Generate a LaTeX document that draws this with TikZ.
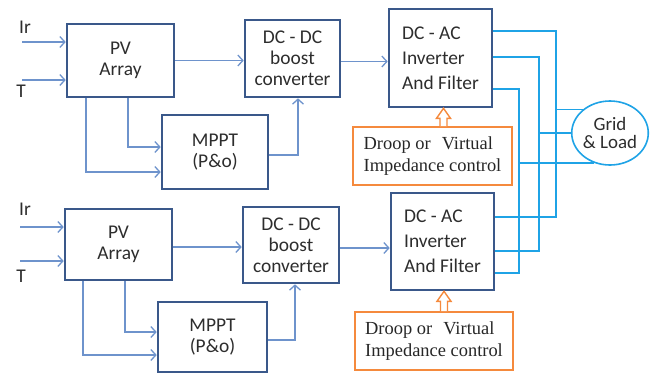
\documentclass[tikz,border=0pt]{standalone}
\usepackage{fontspec}
\usepackage{tikz}
\usetikzlibrary{arrows.meta,calc,shapes.geometric}
\newfontfamily\boxsans{Carlito}
\newfontfamily\ctlserif{Liberation Serif}
\definecolor{boxline}{RGB}{58,88,138}
\definecolor{boxtext}{RGB}{45,45,45}
\definecolor{sigline}{RGB}{110,147,204}
\definecolor{busline}{RGB}{31,163,230}
\definecolor{ctlline}{RGB}{245,138,61}
\tikzset{
  blk/.style  ={draw=boxline, line width=2.6bp, fill=white, inner sep=0pt, align=center,
                text=boxtext, font=\boxsans\fontsize{19.5}{21}\selectfont},
  ctl/.style  ={draw=ctlline, line width=1.6bp, inner sep=0pt, align=left,
                text=black!85, font=\ctlserif\fontsize{18.5}{22}\selectfont},
  lbl/.style  ={inner sep=0pt, text=boxtext, font=\boxsans\fontsize{19.5}{21}\selectfont},
  sig/.style  ={draw=sigline, line width=1.3bp, -{Straight Barb[length=5bp,width=11bp]}},
  bus/.style  ={draw=busline, line width=1.6bp},
  hol/.style  ={draw=ctlline, line width=1.4bp, fill=white, line join=miter},
}

\begin{document}
\begin{tikzpicture}[x=1bp,y=-1bp]
  \useasboundingbox (0,0) rectangle (651,374);
  % upper source
  \node[blk, minimum width=107bp, minimum height=73bp] (pvA) at (120.5,60.5) {PV\\Array};
  \node[blk, minimum width=95bp, minimum height=77bp] (dcA) at (292.5,58.5) {DC - DC\\boost\\converter};
  \node[blk, minimum width=106bp, minimum height=74bp] (mpA) at (215,152) {MPPT\\(P\&o)};
  \node[blk, align=left, minimum width=103bp, minimum height=98bp,
        font=\boxsans\fontsize{19.5}{25}\selectfont] (acA) at (440.5,58) {DC - AC\\Inverter\\And Filter};
  \node[ctl, minimum width=159bp, minimum height=58bp] (drA) at (432.5,156) {Droop or\hspace{0.35em} Virtual\\Impedance control};
  \node[lbl] (irA) at (25,27) {Ir};
  \node[lbl] (tA) at (21,91) {T};
  \coordinate (inA1) at (22,42);
  \coordinate (inA2) at (22,80);
  \draw[sig] (inA1) -- (inA1 -| pvA.west);
  \draw[sig] (inA2) -- (inA2 -| pvA.west);
  \draw[sig] (pvA.east) -- (pvA.east -| dcA.west);
  \draw[sig] ($(dcA.east)+(0,3)$) -- ($(dcA.east -| acA.west)+(0,3)$);
  \draw[sig] ($(pvA.south)+(-34.5,0)$) |- ($(mpA.west)+(0,20)$);
  \draw[sig] ($(pvA.south)+(7.5,0)$) |- ($(mpA.west)+(0,-5)$);
  \draw[sig] ($(mpA.east)+(0,3)$) -| ($(dcA.south)+(5.5,0)$);
  \coordinate (hA) at ($(drA.north)+(11,0)$);
  \draw[hol] let \p1=(hA), \p2=(hA |- acA.south) in
    (\x1-3.5bp,\y1) -- (\x1-3.5bp,\y2-10bp) -- (\x1-7bp,\y2-10bp) -- (\x2,\y2)
    -- (\x1+7bp,\y2-10bp) -- (\x1+3.5bp,\y2-10bp) -- (\x1+3.5bp,\y1);

  % lower source
  \node[blk, minimum width=107bp, minimum height=71bp] (pvB) at (118.5,244.5) {PV\\Array};
  \node[blk, minimum width=96bp, minimum height=76bp] (dcB) at (291,245) {DC - DC\\boost\\converter};
  \node[blk, minimum width=109bp, minimum height=70bp] (mpB) at (212.5,337) {MPPT\\(P\&o)};
  \node[blk, align=left, minimum width=103bp, minimum height=97bp,
        font=\boxsans\fontsize{19.5}{25}\selectfont] (acB) at (442.5,241.5) {DC - AC\\Inverter\\And Filter};
  \node[ctl, minimum width=158bp, minimum height=58bp] (drB) at (434,341) {Droop or\hspace{0.35em} Virtual\\Impedance control};
  \node[lbl] (irB) at (25,209.5) {Ir};
  \node[lbl] (tB) at (21,276) {T};
  \coordinate (inB1) at (20,227);
  \coordinate (inB2) at (20,261);
  \draw[sig] (inB1) -- (inB1 -| pvB.west);
  \draw[sig] (inB2) -- (inB2 -| pvB.west);
  \draw[sig] ($(pvB.east)+(0,2.5)$) -- ($(pvB.east -| dcB.west)+(0,2.5)$);
  \draw[sig] ($(dcB.east)+(0,3)$) -- ($(dcB.east -| acB.west)+(0,3)$);
  \draw[sig] ($(pvB.south)+(-35.5,0)$) |- ($(mpB.west)+(0,18)$);
  \draw[sig] ($(pvB.south)+(6.5,0)$) |- ($(mpB.west)+(0,-5)$);
  \draw[sig] ($(mpB.east)+(0,3)$) -| ($(dcB.south)+(4,0)$);
  \coordinate (hB) at ($(drB.north)+(10,0)$);
  \draw[hol] let \p1=(hB), \p2=(hB |- acB.south) in
    (\x1-3.5bp,\y1) -- (\x1-3.5bp,\y2-10bp) -- (\x1-7bp,\y2-10bp) -- (\x2,\y2)
    -- (\x1+7bp,\y2-10bp) -- (\x1+3.5bp,\y2-10bp) -- (\x1+3.5bp,\y1);

  % ac bus to the grid
  \node[ellipse, draw=busline, line width=1.6bp, inner sep=0pt, minimum width=75bp, minimum height=64bp,
        align=center, text=boxtext, font=\boxsans\fontsize{19}{17.5}\selectfont] (grid) at (610,133) {Grid\\\& Load};
  \coordinate (gr1) at (556,0);
  \coordinate (gr2) at (539,0);
  \coordinate (gr3) at (519,0);
  \coordinate (oA1) at ($(acA.east)+(0,-27)$);
  \coordinate (oA2) at ($(acA.east)+(0,-1)$);
  \coordinate (oA3) at ($(acA.east)+(0,31)$);
  \coordinate (oB1) at ($(acB.east)+(0,-24.5)$);
  \coordinate (oB2) at ($(acB.east)+(0,9.5)$);
  \coordinate (oB3) at ($(acB.east)+(0,31.5)$);
  \draw[bus] (oA1) -- (oA1 -| gr1) -- (oB1 -| gr1) -- (oB1);
  \draw[bus] (oA2) -- (oA2 -| gr2) -- (oB2 -| gr2) -- (oB2);
  \draw[bus] (oA3) -- (oA3 -| gr3) -- (oB3 -| gr3) -- (oB3);
  \draw[bus] (gr1 |- grid.139) -- (grid.139);
  \draw[bus] (gr2 |- grid.west) -- (grid.west);
  \draw[bus] (gr3 |- grid.241) -- (grid.241);
\end{tikzpicture}
\end{document}
